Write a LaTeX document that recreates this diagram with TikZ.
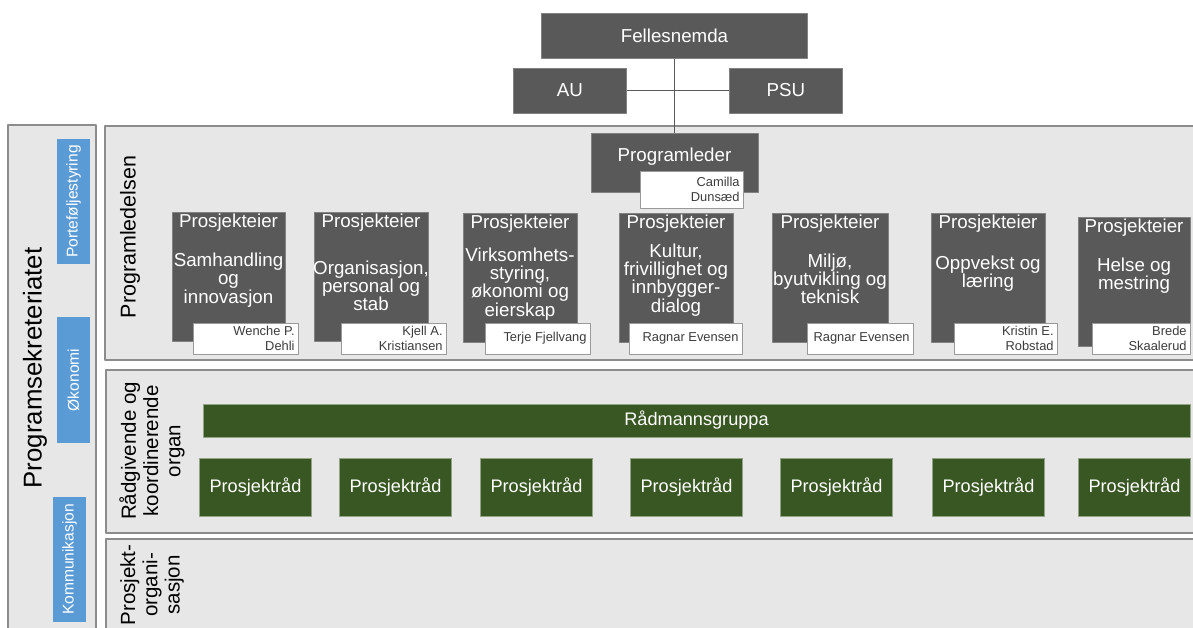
\documentclass[tikz,border=0pt]{standalone}
\usepackage{fontspec}
\setmainfont{Liberation Sans}
\usetikzlibrary{fit}
\definecolor{boxgray}{RGB}{89,89,89}
\definecolor{panelgray}{RGB}{231,231,231}
\definecolor{linegray}{RGB}{140,140,140}
\definecolor{raadgreen}{RGB}{56,87,35}
\definecolor{sekblue}{RGB}{91,155,213}
\definecolor{nametxt}{RGB}{60,60,60}
\begin{document}
\begin{tikzpicture}[x=0.03cm,y=-0.03cm,line join=round,
  panel/.style={draw=linegray,fill=panelgray,line width=1.2pt},
  dbox/.style={fill=boxgray,draw=boxgray!75!white,line width=.6pt,inner sep=0pt,text=white,font=\fontsize{16}{15.5}\selectfont},
  gbox/.style={fill=raadgreen,draw=raadgreen!55!white,line width=.6pt,inner sep=0pt,text=white,font=\fontsize{15.5}{15.5}\selectfont},
  bbox/.style={fill=sekblue,rotate=90,inner sep=0pt,text=white,font=\fontsize{13.3}{13.3}\selectfont},
  nbox/.style={fill=white,draw=gray!80,line width=.6pt,inner sep=0pt},
  wtxt/.style={text=white,inner sep=0pt,align=center,font=\fontsize{16}{15.5}\selectfont},
  ntxt/.style={text=nametxt,inner sep=0pt,align=right,font=\fontsize{11}{12.8}\selectfont},
  vlab/.style={rotate=90,align=center,inner sep=0pt,font=\fontsize{17.5}{19}\selectfont}]
\useasboundingbox (0,0) rectangle (1193,628);
\clip (0,0) rectangle (1193,628);
% panels
\draw[panel] (8,125) rectangle (96,640);
\draw[panel] (105,126) rectangle (1210,360);
\draw[panel] (106,370) rectangle (1210,533);
\draw[panel] (106,539) rectangle (1210,640);
\node[vlab,font=\fontsize{22}{22}\selectfont] (sek) at (35,368) {Programsekreteriatet};
\node[vlab,font=\fontsize{18.3}{18.3}\selectfont] (pled) at (130,237) {Programledelsen};
\node[vlab] (raad) at (152,451) {Rådgivende og\\koordinerende\\organ};
\node[vlab] (porg) at (152,585) {Prosjekt-\\organi-\\sasjon};
% sekretariat
\node[bbox,minimum width=107pt,minimum height=28pt] (pf) at (73.5,201.5) {Porteføljestyring};
\node[bbox,minimum width=107pt,minimum height=28pt] (ok) at (73.5,380) {Økonomi};
\node[bbox,minimum width=107pt,minimum height=28pt] (kom) at (69.5,559.5) {Kommunikasjon};
% top
\node[dbox,minimum width=227pt,minimum height=39pt] (fn) at (674.5,36) {Fellesnemda};
\node[dbox,minimum width=97pt,minimum height=38.3pt] (au) at (570,90.5) {AU};
\node[dbox,minimum width=97pt,minimum height=38.3pt] (psu) at (786,90.5) {PSU};
\node[dbox,fit={(591,133) (758,192)}] (pl) {};
\draw[boxgray,line width=1.6pt] (fn) -- (pl);
\draw[boxgray,line width=1.6pt] (au) -- (psu);
\node[wtxt] (plt) at (674.5,157) {Programleder};
\node[nbox,fit={(640,171) (743,208)}] (pln) {};
\node[ntxt,anchor=east] (plw) at ([xshift=-3pt]pln.east) {Camilla\\Dunsæd};
% prosjekteiere
\foreach \i/\xa/\xb/\ya/\by/\body/\na/\nb/\who in {
  1/172/285/212/280/{Samhandling\\og\\innovasjon}/193/298/{Wenche P.\\Dehli},
  2/314/428/212/286/{Organisasjon,\\personal og\\stab}/341/446/{Kjell A.\\Kristiansen},
  3/463/577/213/284/{Virksomhets-\\styring,\\økonomi og\\eierskap}/485/590/{Terje Fjellvang},
  4/619/733/213/280/{Kultur,\\frivillighet og\\innbygger-\\dialog}/629/742/{Ragnar Evensen},
  5/772/888/213/279/{Miljø,\\byutvikling og\\teknisk}/807/913/{Ragnar Evensen},
  6/931/1045/213/274/{Oppvekst og\\læring}/954/1057/{Kristin E.\\Robstad},
  7/1078/1190/217/276/{Helse og\\mestring}/1092/1190/{Brede\\Skaalerud}}{
  \node[dbox,fit={(\xa,\ya) (\xb,\ya+129)}] (pe\i) {};
  \node[wtxt] (pe\i h) at ({(\xa+\xb)/2},\ya+11) {Prosjekteier};
  \node[wtxt] (pe\i b) at ({(\xa+\xb)/2},\by) {\body};
  \node[nbox,fit={(\na,323) (\nb,354)}] (pe\i n) {};
  \node[ntxt,anchor=east] (pe\i w) at ([xshift=-3pt]pe\i n.east) {\who};
}
% raadgivende organ
\node[gbox,minimum width=842.7pt,minimum height=28pt] (rg) at (696.5,420.5) {Rådmannsgruppa};
\foreach \i/\xa in {1/199,2/339,3/480,4/630,5/780,6/932,7/1078}
  \node[gbox,minimum width=96.1pt,minimum height=49.3pt] (pr\i) at (\xa+56.5,487) {Prosjektråd};
\end{tikzpicture}
\end{document}
